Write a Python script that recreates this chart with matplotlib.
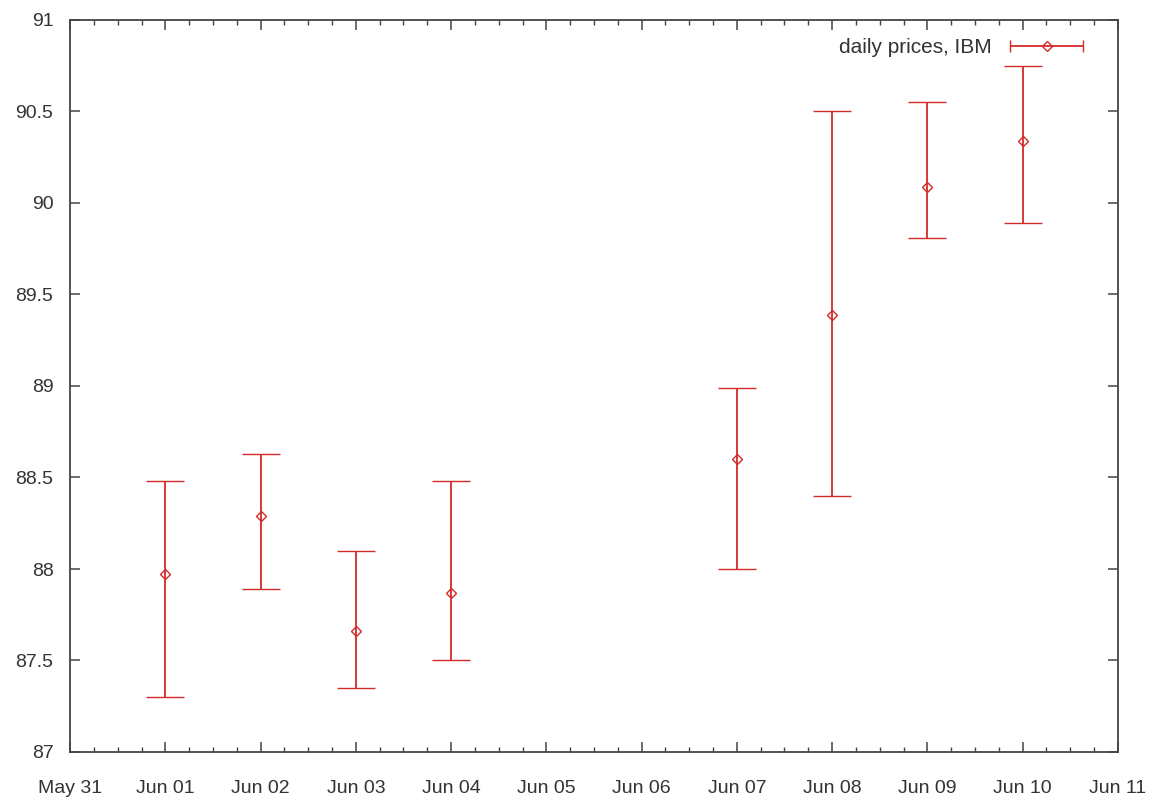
import numpy as np
import matplotlib.pyplot as plt
import matplotlib.dates as mdates
from matplotlib.legend_handler import HandlerErrorbar
from datetime import datetime

# daily prices (year guessed: Jun 5/6 are the weekend gap)
days = ["2010-06-01", "2010-06-02", "2010-06-03", "2010-06-04",
        "2010-06-07", "2010-06-08", "2010-06-09", "2010-06-10"]
mid = [87.97, 88.29, 87.66, 87.87, 88.60, 89.39, 90.09, 90.34]
high = [88.48, 88.63, 88.10, 88.48, 88.99, 90.50, 90.55, 90.75]
low = [87.30, 87.89, 87.35, 87.50, 88.00, 88.40, 89.81, 89.89]

RED = "#d42a2a"
GREY = "#333333"

plt.rcParams['font.family'] = ['Liberation Sans', 'DejaVu Sans']
plt.rcParams['font.size'] = 14

x = [datetime.strptime(d, "%Y-%m-%d") for d in days]
mid = np.array(mid)
yerr = [mid - np.array(low), np.array(high) - mid]

fig = plt.figure(figsize=(11.5, 8), dpi=100)
ax = fig.add_axes([0.061, 0.06, 0.911, 0.915])

ax.errorbar(x, mid, yerr=yerr, fmt='D', color=RED, ecolor=RED,
            elinewidth=1.3, capsize=14, capthick=1.3,
            markersize=5.5, markerfacecolor='none', markeredgewidth=1.0)

# proxy for the gnuplot-style legend sample (horizontal bar, small caps)
proxy = ax.errorbar([np.nan], [np.nan], xerr=[np.nan], fmt='D', color=RED,
                    ecolor=RED, elinewidth=1.3, capsize=4, capthick=1.3,
                    markersize=5.5, markerfacecolor='none', markeredgewidth=1.0)

ax.legend([proxy], ["daily prices, IBM"], loc='upper right', frameon=False,
          markerfirst=False, handlelength=3.5, handletextpad=0.9,
          fontsize=15, bbox_to_anchor=(0.985, 1.001), labelcolor=GREY,
          handler_map={type(proxy): HandlerErrorbar(xerr_size=1.75)})

ax.set_xlim(datetime(2010, 5, 31), datetime(2010, 6, 11))
ax.set_ylim(87, 91)
ax.xaxis.set_major_locator(mdates.DayLocator())
ax.xaxis.set_major_formatter(mdates.DateFormatter("%b %d"))
ax.xaxis.set_minor_locator(mdates.HourLocator(byhour=[6, 12, 18]))
ax.set_yticks(np.arange(87, 91.01, 0.5))
ax.set_yticklabels(["87", "87.5", "88", "88.5", "89", "89.5", "90", "90.5", "91"])

for s in ax.spines.values():
    s.set_color("#444444")
    s.set_linewidth(1.3)
ax.tick_params(which='both', direction='in', top=True, right=True,
               color="#444444", labelcolor=GREY)
ax.tick_params(which='major', length=7, width=1.1)
ax.tick_params(which='minor', length=3.5, width=1.0)
ax.tick_params(axis='x', which='major', pad=20)
ax.tick_params(axis='y', which='major', pad=12)

fig.savefig("out.png", dpi=100)
